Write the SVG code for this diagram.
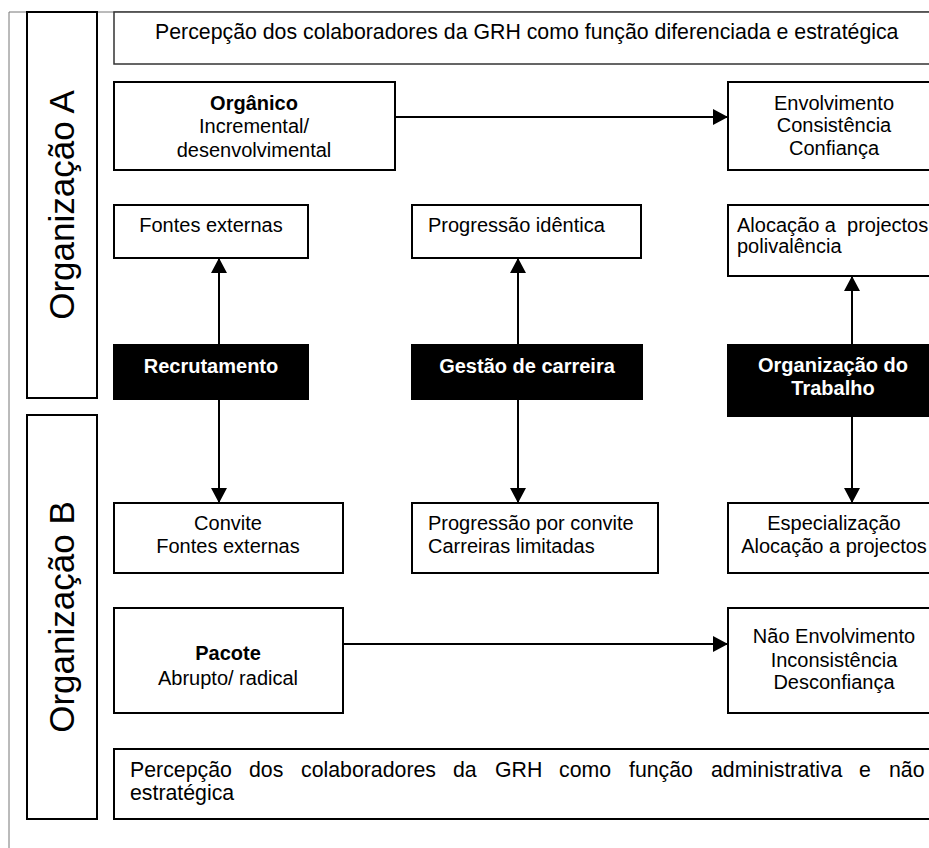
<svg xmlns="http://www.w3.org/2000/svg" width="929" height="848" viewBox="0 0 929 848">
<style>
.box{fill:#fff;stroke:#000;stroke-width:2}
.blk{fill:#000;stroke:#000;stroke-width:2}
.t{font-family:"Liberation Sans",Arial,sans-serif;font-size:20px;fill:#000}
.l{font-size:21.3px}
.c{text-anchor:middle}
.b{font-weight:bold}
.w{fill:#fff}
.v{font-family:"Liberation Sans",Arial,sans-serif;font-size:35px;fill:#000;text-anchor:middle}
.con{stroke:#000;stroke-width:2;fill:none;marker-end:url(#ah)}
</style>
<defs>
<marker id="ah" markerUnits="userSpaceOnUse" markerWidth="15" markerHeight="16" refX="15" refY="8" orient="auto">
<path d="M0,0 L15,8 L0,16 z" fill="#000"/>
</marker>
</defs>
<rect width="929" height="848" fill="#fff"/>
<path d="M9,848 V12 H929" fill="none" stroke="#777" stroke-width="1"/>

<g id="orgA">
<rect class="box" x="27" y="12" width="70" height="386"/>
<text class="v" transform="translate(74,205) rotate(-90)">Organização A</text>
</g>
<g id="orgB">
<rect class="box" x="27" y="415" width="70" height="404"/>
<text class="v" transform="translate(74,617) rotate(-90)">Organização B</text>
</g>

<g id="topbox">
<rect x="114" y="12" width="830" height="52" fill="#fff" stroke="#333" stroke-width="1.5"/>
<text class="t l" x="155" y="39">Percepção dos colaboradores da GRH como função diferenciada e estratégica</text>
</g>

<g id="organico">
<rect class="box" x="114" y="82" width="281" height="88"/>
<text class="t c b" x="254" y="110">Orgânico</text>
<text class="t c" x="254" y="133">Incremental/</text>
<text class="t c" x="254" y="157">desenvolvimental</text>
</g>

<g id="envolvimento">
<rect class="box" x="728" y="82" width="215" height="88"/>
<text class="t c" x="834" y="110">Envolvimento</text>
<text class="t c" x="834" y="132">Consistência</text>
<text class="t c" x="834" y="155">Confiança</text>
</g>

<g id="fontesA">
<rect class="box" x="114" y="205" width="194" height="53"/>
<text class="t c" x="211" y="232">Fontes externas</text>
</g>

<g id="progident">
<rect class="box" x="412" y="205" width="229" height="53"/>
<text class="t" x="428" y="232">Progressão idêntica</text>
</g>

<g id="alocacao">
<rect class="box" x="728" y="205" width="215" height="71"/>
<text class="t" x="737" y="232" xml:space="preserve">Alocação a  projectos</text>
<text class="t" x="737" y="253">polivalência</text>
</g>

<g id="recrutamento">
<rect class="blk" x="114" y="345" width="194" height="54"/>
<text class="t c b w" x="211" y="373">Recrutamento</text>
</g>

<g id="gestao">
<rect class="blk" x="412" y="345" width="230" height="54"/>
<text class="t c b w" x="527" y="373">Gestão de carreira</text>
</g>

<g id="orgtrabalho">
<rect class="blk" x="728" y="345" width="215" height="71"/>
<text class="t c b w" x="833" y="372">Organização do</text>
<text class="t c b w" x="833" y="395">Trabalho</text>
</g>

<g id="convite">
<rect class="box" x="114" y="503" width="229" height="70"/>
<text class="t c" x="228" y="530">Convite</text>
<text class="t c" x="228" y="553">Fontes externas</text>
</g>

<g id="progconvite">
<rect class="box" x="412" y="503" width="246" height="70"/>
<text class="t" x="428" y="530">Progressão por convite</text>
<text class="t" x="428" y="553">Carreiras limitadas</text>
</g>

<g id="especializacao">
<rect class="box" x="728" y="503" width="215" height="70"/>
<text class="t c" x="834" y="530">Especialização</text>
<text class="t c" x="834" y="553">Alocação a projectos</text>
</g>

<g id="pacote">
<rect class="box" x="114" y="608" width="229" height="105"/>
<text class="t c b" x="228" y="660">Pacote</text>
<text class="t c" x="228" y="685">Abrupto/ radical</text>
</g>

<g id="naoenvolvimento">
<rect class="box" x="728" y="608" width="215" height="105"/>
<text class="t c" x="834" y="643">Não Envolvimento</text>
<text class="t c" x="834" y="667">Inconsistência</text>
<text class="t c" x="834" y="689">Desconfiança</text>
</g>

<g id="bottombox">
<rect class="box" x="114" y="749" width="830" height="70"/>
<text class="t l" y="777"><tspan x="130">Percepção</tspan><tspan x="249">dos</tspan><tspan x="301">colaboradores</tspan><tspan x="453">da</tspan><tspan x="495">GRH</tspan><tspan x="559">como</tspan><tspan x="629">função</tspan><tspan x="711">administrativa</tspan><tspan x="859">e</tspan><tspan x="889">não</tspan></text>
<text class="t l" x="130" y="800">estratégica</text>
</g>

<g id="connectors">
<path class="con" d="M395,117 H728"/>
<path class="con" d="M219,345 V258"/>
<path class="con" d="M219,399 V503"/>
<path class="con" d="M518,345 V258"/>
<path class="con" d="M518,399 V503"/>
<path class="con" d="M852,345 V276"/>
<path class="con" d="M852,416 V503"/>
<path class="con" d="M343,644 H728"/>
</g>
</svg>
